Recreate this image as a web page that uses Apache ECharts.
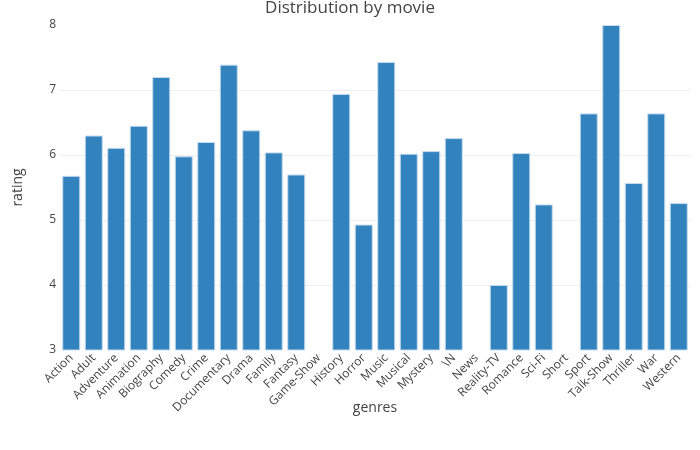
<!DOCTYPE html>
<html>
<head>
<meta charset="utf-8">
<script src="https://cdn.jsdelivr.net/npm/echarts@6/dist/echarts.min.js"></script>
<style>html,body{margin:0;padding:0;background:#fff;}#chart{width:700px;height:450px;}</style>
</head>
<body>
<div id="chart"></div>
<script>
const genres = ['Action','Adult','Adventure','Animation','Biography','Comedy','Crime','Documentary','Drama','Family','Fantasy','Game-Show','History','Horror','Music','Musical','Mystery','\\N','News','Reality-TV','Romance','Sci-Fi','Short','Sport','Talk-Show','Thriller','War','Western'];
const ratings = [5.68,6.30,6.11,6.45,7.20,5.98,6.20,7.39,6.38,6.04,5.70,null,6.94,4.93,7.43,6.02,6.06,6.26,null,4.00,6.03,5.24,null,6.64,8.00,5.57,6.64,5.26];
const yMin = 3, yMax = 8, yStep = 1;

const chart = echarts.init(document.getElementById('chart'), null, {renderer:'canvas'});
const font = '"Open Sans", Verdana, Arial, sans-serif';
chart.setOption({
  animation: false,
  backgroundColor: '#fff',
  title: {
    text: 'Distribution by movie',
    left: 'center', top: 0, padding: [0,0,0,0],
    textStyle: {fontFamily: font, fontSize: 17, fontWeight: 'normal', color: '#444'}
  },
  grid: {left: 60, right: 10, top: 25, bottom: 100, containLabel: false},
  xAxis: {
    type: 'category',
    data: genres,
    name: 'genres',
    nameLocation: 'middle',
    nameGap: 51,
    nameMoveOverlap: false,
    nameTextStyle: {fontFamily: font, fontSize: 14, color: '#444'},
    axisLine: {show: false},
    axisTick: {show: false},
    axisLabel: {interval: 0, rotate: 45, margin: 6, fontFamily: font, fontSize: 12, color: '#444'}
  },
  yAxis: {
    type: 'value',
    min: yMin, max: yMax, interval: yStep,
    name: 'rating',
    nameLocation: 'middle',
    nameGap: 35,
    nameMoveOverlap: false,
    nameTextStyle: {fontFamily: font, fontSize: 14, color: '#444'},
    axisLine: {show: false},
    axisTick: {show: false},
    axisLabel: {margin: 4, fontFamily: font, fontSize: 12, color: '#444'},
    splitLine: {show: true, lineStyle: {width: 1, color: ['transparent','#eeeeee','#eeeeee','#eeeeee','#eeeeee','transparent']}}
  },
  series: [{
    type: 'bar',
    data: ratings,
    barCategoryGap: '20%',
    itemStyle: {color: '#3182bd', borderColor: '#c6dbef', borderWidth: 1}
  }]
});
</script>
</body>
</html>
